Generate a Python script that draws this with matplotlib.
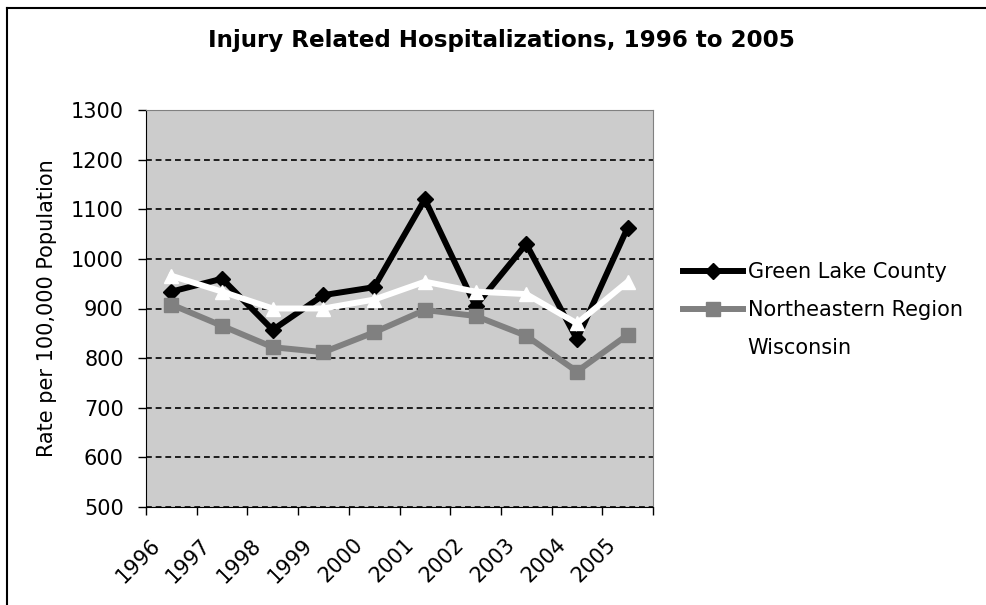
import matplotlib
matplotlib.use('Agg')
import matplotlib.pyplot as plt
from matplotlib.lines import Line2D
from matplotlib.transforms import ScaledTranslation

years = ['1996', '1997', '1998', '1999', '2000', '2001', '2002', '2003', '2004', '2005']
green_lake = [934, 960, 857, 927, 943, 1120, 905, 1030, 838, 1063]
northeastern = [908, 865, 822, 812, 852, 897, 885, 845, 773, 847]
wisconsin = [966, 934, 900, 900, 918, 954, 934, 929, 870, 954]

plt.rcParams['font.family'] = ['DejaVu Sans']

fig = plt.figure(figsize=(9.86, 6.05), dpi=100)
W, H = 986, 605
ax = fig.add_axes([146 / W, 1 - 507 / H, (653 - 146) / W, (507 - 110) / H])
ax.set_facecolor('#cccccc')

x = list(range(len(years)))
ax.plot(x, green_lake, color='black', lw=4.3, marker='D', ms=8, label='Green Lake County', zorder=3)
ax.plot(x, northeastern, color='#808080', lw=4.3, marker='s', ms=10, label='Northeastern Region', zorder=3)
ax.plot(x, wisconsin, color='white', lw=4.3, marker='^', ms=10, label='Wisconsin', zorder=3)

ax.set_xlim(-0.5, len(years) - 0.5)
ax.set_ylim(500, 1300)
ax.set_yticks(range(500, 1301, 100))
ax.yaxis.grid(True, linestyle=(0, (3.5, 2.3)), color='black', lw=1.2)
ax.set_axisbelow(True)

ax.set_xticks(x)
ax.set_xticklabels(years, fontsize=15, rotation=45, ha='right', va='center', rotation_mode='anchor')
ax.set_xticks([i - 0.5 for i in range(len(years) + 1)], minor=True)
ax.tick_params(axis='x', which='major', length=0, pad=25)
ax.tick_params(axis='x', which='minor', length=6, direction='out', width=1)
offset = ScaledTranslation(-0.145, 0, fig.dpi_scale_trans)
for lab in ax.get_xticklabels():
    lab.set_transform(lab.get_transform() + offset)

ax.tick_params(axis='y', length=6, direction='out', width=1, labelsize=15, pad=10)
ax.set_ylabel('Rate per 100,000 Population', fontsize=15, labelpad=10)

for s in ['top', 'right']:
    ax.spines[s].set_color('#808080')
for s in ['left', 'bottom']:
    ax.spines[s].set_color('black')

fig.text(501 / W, 1 - 41 / H, 'Injury Related Hospitalizations, 1996 to 2005',
         ha='center', va='center', fontsize=16.6, fontweight='bold')

ax.legend(loc='center left', bbox_to_anchor=(683 / W, 1 - 310 / H), bbox_transform=fig.transFigure,
          frameon=False, fontsize=15, handlelength=2.9, handletextpad=0.2,
          borderpad=0, borderaxespad=0, labelspacing=0.84)

# chart border (cropped at right and bottom)
fig.add_artist(Line2D([7 / W, 7 / W], [0, 1 - 8 / H], color='black', lw=1.5, transform=fig.transFigure))
fig.add_artist(Line2D([7 / W, 1], [1 - 8 / H, 1 - 8 / H], color='black', lw=1.5, transform=fig.transFigure))

fig.savefig('out.png', dpi=100)
